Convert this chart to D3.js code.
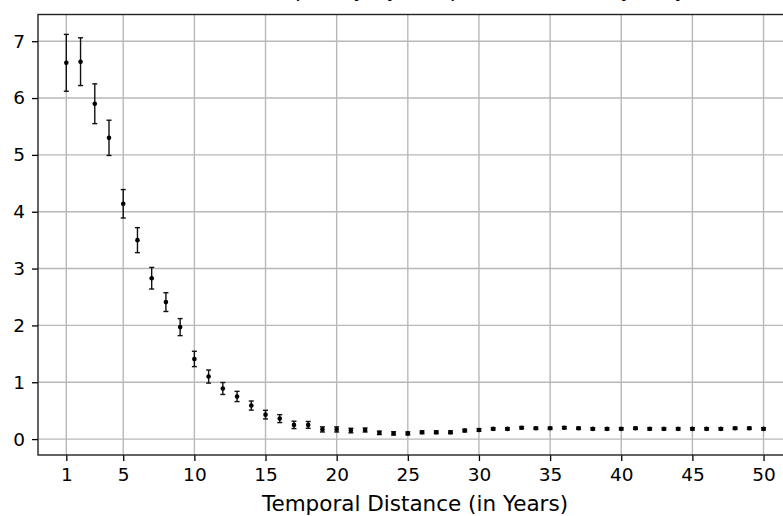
<!DOCTYPE html>
<html>
<head>
<meta charset="utf-8">
<script src="https://cdn.jsdelivr.net/npm/d3@7"></script>
<style>
  body { margin: 0; background: #fff; }
  svg text { font-family: "DejaVu Sans", sans-serif; fill: #000; }
</style>
</head>
<body>
<div id="chart"></div>
<script>
var width = 783, height = 516;

// Data
var years = d3.range(1, 51);
var means = [6.62, 6.64, 5.90, 5.30, 4.14, 3.50, 2.83, 2.41, 1.97, 1.41,
             1.10, 0.89, 0.75, 0.59, 0.43, 0.36, 0.25, 0.25, 0.17, 0.17,
             0.15, 0.16, 0.11, 0.10, 0.10, 0.12, 0.12, 0.12, 0.15, 0.16,
             0.18, 0.18, 0.20, 0.19, 0.19, 0.20, 0.19, 0.18, 0.18, 0.18,
             0.19, 0.18, 0.18, 0.18, 0.18, 0.18, 0.18, 0.19, 0.19, 0.18];
var errors = [0.50, 0.42, 0.35, 0.31, 0.25, 0.22, 0.19, 0.165, 0.15, 0.135,
              0.115, 0.105, 0.09, 0.08, 0.076, 0.07, 0.065, 0.06, 0.045, 0.045,
              0.04, 0.035, 0.03, 0.028, 0.026, 0.025, 0.025, 0.025, 0.024, 0.024,
              0.02, 0.02, 0.02, 0.02, 0.02, 0.02, 0.02, 0.02, 0.02, 0.02,
              0.02, 0.02, 0.02, 0.02, 0.02, 0.02, 0.02, 0.02, 0.02, 0.02];
var xTicks = [1, 5, 10, 15, 20, 25, 30, 35, 40, 45, 50];
var yTicks = [0, 1, 2, 3, 4, 5, 6, 7];

var data = years.map(function(d, i) {
    return { x: d, y: means[i], e: errors[i] };
});

// plot area (right side runs past the picture edge)
var plotL = 38, plotR = 792, plotT = 14.5, plotB = 455;

var svg = d3.select("#chart")
            .append("svg")
            .attr("width", width)
            .attr("height", height);

var x = d3.scaleLinear().domain([-0.99, 52]).range([plotL, plotR]);
var y = d3.scaleLinear().domain([-0.28, 7.47]).range([plotB, plotT]);

// grid
svg.append("g")
   .selectAll("line")
   .data(xTicks)
   .enter()
   .append("line")
   .attr("x1", function(d) { return x(d); })
   .attr("x2", function(d) { return x(d); })
   .attr("y1", plotT)
   .attr("y2", plotB)
   .attr("stroke", "#b8b8b8")
   .attr("stroke-width", 1.4);

svg.append("g")
   .selectAll("line")
   .data(yTicks)
   .enter()
   .append("line")
   .attr("x1", plotL)
   .attr("x2", plotR)
   .attr("y1", function(d) { return y(d); })
   .attr("y2", function(d) { return y(d); })
   .attr("stroke", "#b8b8b8")
   .attr("stroke-width", 1.4);

// axes
var xAxis = svg.append("g")
   .attr("transform", "translate(0," + plotB + ")")
   .call(d3.axisBottom(x).tickValues(xTicks).tickSize(6).tickPadding(5));

var yAxis = svg.append("g")
   .attr("transform", "translate(" + plotL + ",0)")
   .call(d3.axisLeft(y).tickValues(yTicks).tickSize(6).tickPadding(7));

[xAxis, yAxis].forEach(function(g) {
    g.select(".domain").remove();
    g.selectAll(".tick line").attr("stroke", "#000").attr("stroke-width", 1.3);
    g.selectAll(".tick text").style("font-size", "18.5px");
});
xAxis.selectAll(".tick text").attr("dy", "0.8em");

// spines
svg.append("rect")
   .attr("x", plotL)
   .attr("y", plotT)
   .attr("width", plotR - plotL)
   .attr("height", plotB - plotT)
   .attr("fill", "none")
   .attr("stroke", "#222")
   .attr("stroke-width", 1.4);

// error bars
var bars = svg.append("g").selectAll("g")
   .data(data)
   .enter()
   .append("g");

bars.append("line")
    .attr("x1", function(d) { return x(d.x); })
    .attr("x2", function(d) { return x(d.x); })
    .attr("y1", function(d) { return y(d.y - d.e); })
    .attr("y2", function(d) { return y(d.y + d.e); })
    .attr("stroke", "#111")
    .attr("stroke-width", 1.4);

bars.selectAll(".cap")
    .data(function(d) { return [[d.x, d.y - d.e], [d.x, d.y + d.e]]; })
    .enter()
    .append("line")
    .attr("class", "cap")
    .attr("x1", function(d) { return x(d[0]) - 2.5; })
    .attr("x2", function(d) { return x(d[0]) + 2.5; })
    .attr("y1", function(d) { return y(d[1]); })
    .attr("y2", function(d) { return y(d[1]); })
    .attr("stroke", "#111")
    .attr("stroke-width", 1.4);

bars.append("circle")
    .attr("cx", function(d) { return x(d.x); })
    .attr("cy", function(d) { return y(d.y); })
    .attr("r", 2.3)
    .attr("fill", "#000");

// axis label
svg.append("text")
   .attr("x", 415)
   .attr("y", 511)
   .attr("text-anchor", "middle")
   .style("font-size", "21.5px")
   .text("Temporal Distance (in Years)");

// title, mostly above the picture edge
svg.append("text")
   .attr("x", 430)
   .attr("y", -3.5)
   .attr("text-anchor", "middle")
   .style("font-size", "21.5px")
   .text("Citation Frequency by Temporal Distance (yearly)");
</script>
</body>
</html>
